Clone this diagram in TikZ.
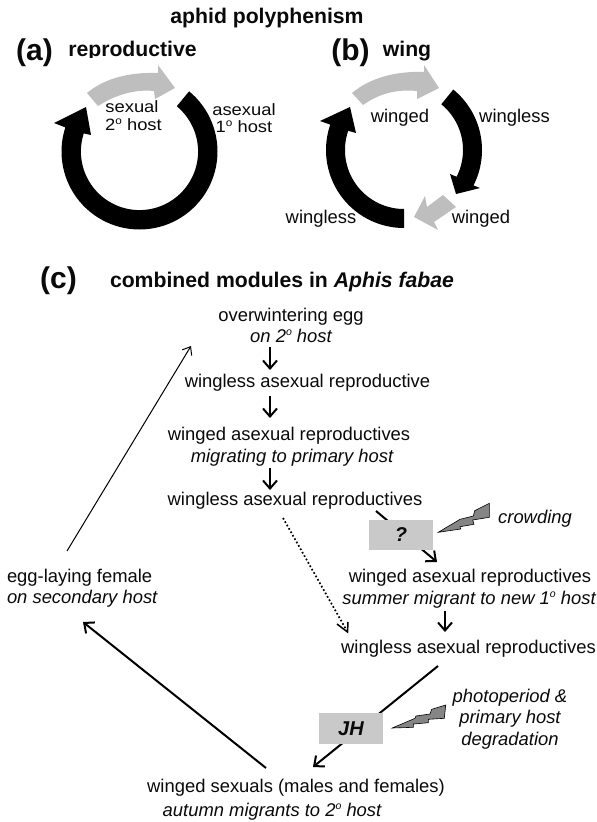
\documentclass[tikz,border=0pt]{standalone}
\usepackage{fontspec}
\setmainfont{Liberation Sans}
\usetikzlibrary{arrows.meta}
\definecolor{arrowgray}{HTML}{BEBEBE}
\definecolor{boxgray}{HTML}{C9C9C9}
\definecolor{boltgray}{HTML}{858585}
\definecolor{ink}{HTML}{0A0A0A}
\newcommand\ringarrow[8]{% cx cy start end, barb tip barb, inner radius
  \fill[black] plot[domain=#3:#4,samples=70] ({#1+78*cos(\x)},{#2-78*sin(\x)}) -- #5 -- #6 -- #7
   -- plot[domain=#4:#3,samples=70] ({#1+#8*cos(\x)},{#2-#8*sin(\x)}) -- cycle;}
\newcommand\degsup{\raisebox{0.36em}{\fontsize{10.5}{11}\selectfont o}}
\tikzset{
  lab/.style={anchor=base,inner sep=0pt,outer sep=0pt,text=ink,font=\fontsize{18.4}{20}\selectfont},
  tight/.style={anchor=base,inner sep=0pt,outer sep=0pt,text=ink,font=\fontsize{16.4}{17}\selectfont\addfontfeature{FakeStretch=1.12}},
  head/.style={anchor=base,inner sep=0pt,outer sep=0pt,text=ink,font=\fontsize{21.2}{24}\selectfont\bfseries},
  panel/.style={anchor=base,inner sep=0pt,outer sep=0pt,text=ink,font=\fontsize{30}{32}\selectfont\bfseries},
  grayarrow/.style={fill=arrowgray,draw=none},
  modbox/.style={fill=boxgray,draw=none,inner sep=0pt,minimum width=64pt,anchor=center,text=ink,font=\fontsize{20}{22}\selectfont\bfseries\itshape},
  bolt/.style={fill=boltgray,draw=black,line width=0.6pt,line join=miter},
  link/.style={draw=black,line width=2pt,-{Straight Barb[length=8pt,width=14pt,line width=2pt]}},
  thinlink/.style={draw=black,line width=1pt,-{Straight Barb[length=7pt,width=11pt,line width=1pt]}},
  dotlink/.style={draw=black,line width=1.7pt,dash pattern=on 1.7pt off 2.2pt},
  dothead/.style={draw=black,line width=1.5pt,line join=miter},
}
\begin{document}
\begin{tikzpicture}[x=1pt,y=-1pt]
\useasboundingbox[fill=white] (0,0) rectangle (597,822);

% header
\node[head] (title) at (267,23.5) {aphid polyphenism};
\node[panel] (pa) at (34.5,60.5) {(a)};
\begin{scope}
  \clip (60,30) rectangle (210,57.5);
  \node[head] (ha) at (132.5,56.5) {reproductive};
\end{scope}
\node[panel] (pb) at (350.5,60.5) {(b)};
\node[head] (hb) at (407,56.5) {wing};

% panel a
\ringarrow{139.5}{151.5}{50.5}{-198}{(54,123)}{(86,107)}{(91,135)}{58.6}
\fill[grayarrow] (87,93) .. controls (105,78) and (130,72) .. (158,73) -- (158,65) -- (175,88) -- (155,99) -- (154,91)
  .. controls (135,89) and (115,95) .. (98,106) -- cycle;
\node[tight] (a1) at (132,112.5) {sexual};
\node[tight] (a2) at (133.5,130) {2\degsup{} host};
\node[tight] (a3) at (244,115) {asexual};
\node[tight] (a4) at (244,132) {1\degsup{} host};

% panel b
\ringarrow{404}{150}{50.8}{-27}{(480,188)}{(456,194)}{(450,174)}{59}
\ringarrow{404}{150}{-90}{-199}{(320,121)}{(350,107)}{(356,133)}{59}
\fill[grayarrow] (352,93) .. controls (370,78) and (395,71) .. (424,72) -- (424,65) -- (439,88) -- (417,99) -- (417,91)
  .. controls (398,89) and (380,93) .. (363,105) -- cycle;
\fill[grayarrow] (443,195) -- (456,207) -- (434,222) -- (438,230) -- (414,217) -- (425,196) -- (427,207) -- cycle;
\node[lab] (b1) at (400,122.5) {winged};
\node[lab] (b2) at (514.5,122.5) {wingless};
\node[lab] (b3) at (321,223) {wingless};
\node[lab] (b4) at (481,223) {winged};

% panel c
\node[panel] (pc) at (58.5,288.5) {(c)};
\node[head,anchor=base west] (hc) at (110,287.5) {combined modules in \textit{Aphis fabae}};

\node[lab] (n1) at (291,321.5) {overwintering egg};
\node[lab] (n1b) at (291,342.5) {\itshape on 2\degsup{} host};
\node[lab] (n2) at (307.5,387.5) {wingless asexual reproductive};
\node[lab] (n3) at (289,440.5) {winged asexual reproductives};
\node[lab] (n3b) at (292,462.5) {\itshape migrating to primary host};
\node[lab] (n4) at (295,505.5) {wingless asexual reproductives};
\node[lab] (n5) at (470,582.5) {winged asexual reproductives};
\node[lab] (n5b) at (469,604.5) {\itshape summer migrant to new 1\degsup{} host};
\node[lab] (n6) at (468.5,653.5) {wingless asexual reproductives};
\node[lab] (n7) at (296,792.5) {winged sexuals (males and females)};
\node[lab] (n7b) at (272,816.5) {\itshape autumn migrants to 2\degsup{} host};
\node[lab,anchor=base west] (n8) at (7,582.5) {egg-laying female};
\node[lab,anchor=base west] (n8b) at (7,603.5) {\itshape on secondary host};
\node[lab] (crowd) at (535,523.5) {\itshape crowding};
\node[lab] (ph1) at (510,702.5) {\itshape photoperiod \&};
\node[lab] (ph2) at (510,723.5) {\itshape primary host};
\node[lab] (ph3) at (510,745.5) {\itshape degradation};

% connector ends
\coordinate (e1a) at (270,347); \coordinate (e1b) at (270,370);
\coordinate (e2a) at (270,396); \coordinate (e2b) at (270,418);
\coordinate (e3a) at (270,468); \coordinate (e3b) at (270,490);
\coordinate (e4a) at (376,511); \coordinate (e4b) at (437,562);
\coordinate (e5a) at (445,611); \coordinate (e5b) at (445,632);
\coordinate (e6a) at (438,666); \coordinate (e6b) at (313,767);
\coordinate (e7a) at (266,768); \coordinate (e7b) at (83,622);
\coordinate (e8a) at (67,551); \coordinate (e8b) at (191,346);
\coordinate (e9a) at (283,518); \coordinate (e9b) at (347.5,632);
\coordinate (e9l) at (337,624); \coordinate (e9r) at (348,622);

\draw[link] (e1a) -- (e1b);
\draw[link] (e2a) -- (e2b);
\draw[link] (e3a) -- (e3b);
\draw[link] (e4a) -- (e4b);
\draw[link] (e5a) -- (e5b);
\draw[link] (e6a) -- (e6b);
\draw[link] (e7a) -- (e7b);
\draw[thinlink] (e8a) -- (e8b);
\draw[dotlink] (e9a) -- (e9b);
\draw[dothead] (e9l) -- (e9b) -- (e9r);

% modules
\node[modbox,minimum height=30pt] (q) at (401,535) {?};
\node[modbox,minimum height=31pt] (jh) at (351,728.5) {JH};

% bolts
\draw[bolt] (438.3,532.3) -- (460,519.3) -- (473.3,516) -- (474.7,510.7) -- (489.3,503.3) -- (489.3,517.3) -- (472.7,520) -- (474,524.3) -- (460,526.7) -- (460.7,529) -- cycle;
\draw[bolt] (392.3,728) -- (415,718.3) -- (416,716) -- (430,714) -- (431.7,709.3) -- (445.7,705) -- (444.3,718.3) -- (428.3,719.3) -- (428.3,722.7) -- (413.3,724) -- (413.3,727.3) -- cycle;
\end{tikzpicture}
\end{document}
